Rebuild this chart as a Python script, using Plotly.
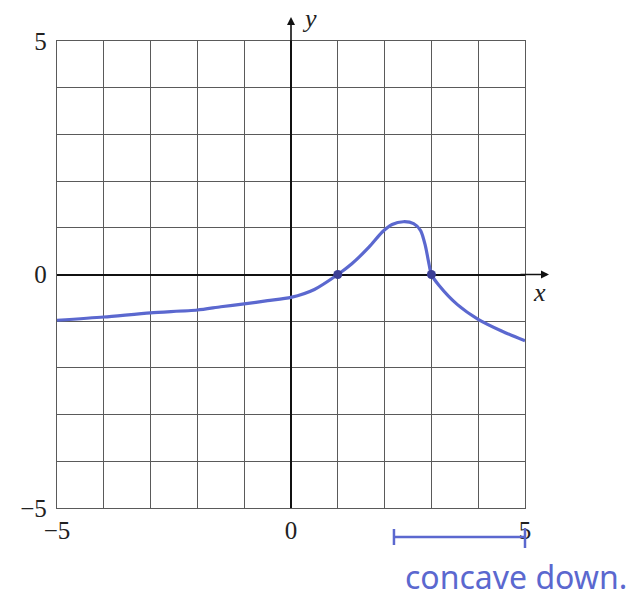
import plotly.graph_objects as go

# Data
curve_x = [-5, -4, -3, -2, -1.5, -1, -0.5, 0, 0.5, 1, 1.3, 1.67, 1.95, 2.16, 2.4, 2.62, 2.77, 2.87, 2.94, 3, 3.16, 3.55, 4, 4.5, 5]
curve_y = [-0.98, -0.91, -0.82, -0.76, -0.69, -0.63, -0.56, -0.49, -0.32, 0, 0.23, 0.59, 0.91, 1.07, 1.13, 1.09, 0.94, 0.62, 0.27, 0, -0.23, -0.64, -0.96, -1.21, -1.42]
root_x = [1, 3]
root_y = [0, 0]
tick_vals = [-5, 0, 5]
tick_text = ["−5", "0", "5"]
concave_from = 2.2
concave_to = 5
concave_label = "concave down."

BLUE = "#5b68cf"
GRID = "#5a5a5a"
SERIF = "Liberation Serif, DejaVu Serif, serif"

fig = go.Figure()
fig.add_trace(go.Scatter(
    x=curve_x, y=curve_y, mode="lines",
    line=dict(color=BLUE, width=3.2, shape="spline", smoothing=0.7),
    hoverinfo="skip", showlegend=False,
))
fig.add_trace(go.Scatter(
    x=root_x, y=root_y, mode="markers",
    marker=dict(color="#3c3f96", size=9),
    hoverinfo="skip", showlegend=False,
))

axis_common = dict(
    range=[-5, 5],
    tickvals=tick_vals, ticktext=tick_text,
    tickfont=dict(family=SERIF, size=25, color="#222"),
    showgrid=True, gridcolor=GRID, gridwidth=1.4,
    minor=dict(dtick=1, tick0=0, showgrid=True, gridcolor=GRID, gridwidth=1.4, ticks=""),
    zeroline=True, zerolinecolor="#111", zerolinewidth=2,
    showline=True, linecolor=GRID, linewidth=1.4, mirror=True,
    ticks="", fixedrange=True,
)
fig.update_xaxes(**axis_common)
fig.update_yaxes(**axis_common, ticklabelstandoff=4)

W, H = 635, 603
ml, mr, mt, mb = 57, 110, 41, 95
pw = W - ml - mr
ph = H - mt - mb

def px_x(p):
    return (p - ml) / pw

def px_y(p):
    return (H - mb - p) / ph

annotations = [
    # x-axis arrow
    dict(x=px_x(549), y=0.5, xref="paper", yref="paper", ax=-30, ay=0,
         showarrow=True, arrowhead=2, arrowsize=1, arrowwidth=1.6, arrowcolor="#111", text=""),
    # y-axis arrow
    dict(x=0.5, y=px_y(17), xref="paper", yref="paper", ax=0, ay=30,
         showarrow=True, arrowhead=2, arrowsize=1, arrowwidth=1.6, arrowcolor="#111", text=""),
    dict(x=px_x(548), y=px_y(292), xref="paper", yref="paper", text="<i>x</i>",
         showarrow=False, font=dict(family=SERIF, size=26, color="#222")),
    dict(x=px_x(300), y=px_y(2), xref="paper", yref="paper", text="<i>y</i>",
         xanchor="left", yanchor="top",
         showarrow=False, font=dict(family=SERIF, size=26, color="#222")),
    dict(x=px_x(403), y=px_y(553), xref="paper", yref="paper", text=concave_label,
         xanchor="left", yanchor="top", showarrow=False,
         font=dict(family="Noto Sans, sans-serif", size=32, color=BLUE)),
]

yb = px_y(537)
shapes = [
    dict(type="line", xref="paper", yref="paper",
         x0=(concave_from + 5) / 10, x1=(concave_to + 5) / 10, y0=yb, y1=yb,
         line=dict(color=BLUE, width=2.5)),
    dict(type="line", xref="paper", yref="paper",
         x0=(concave_from + 5) / 10, x1=(concave_from + 5) / 10, y0=px_y(529), y1=px_y(545),
         line=dict(color=BLUE, width=2.5)),
    dict(type="line", xref="paper", yref="paper",
         x0=(concave_to + 5) / 10, x1=(concave_to + 5) / 10, y0=px_y(528), y1=px_y(548),
         line=dict(color=BLUE, width=2.5)),
]

fig.update_layout(
    width=W, height=H,
    margin=dict(l=ml, r=mr, t=mt, b=mb, pad=0),
    paper_bgcolor="white", plot_bgcolor="white",
    annotations=annotations, shapes=shapes,
    showlegend=False,
)

fig.write_html(
    "out.html",
    config={"displayModeBar": False},
    post_script="document.body.style.margin='0';document.body.style.padding='0';",
)
